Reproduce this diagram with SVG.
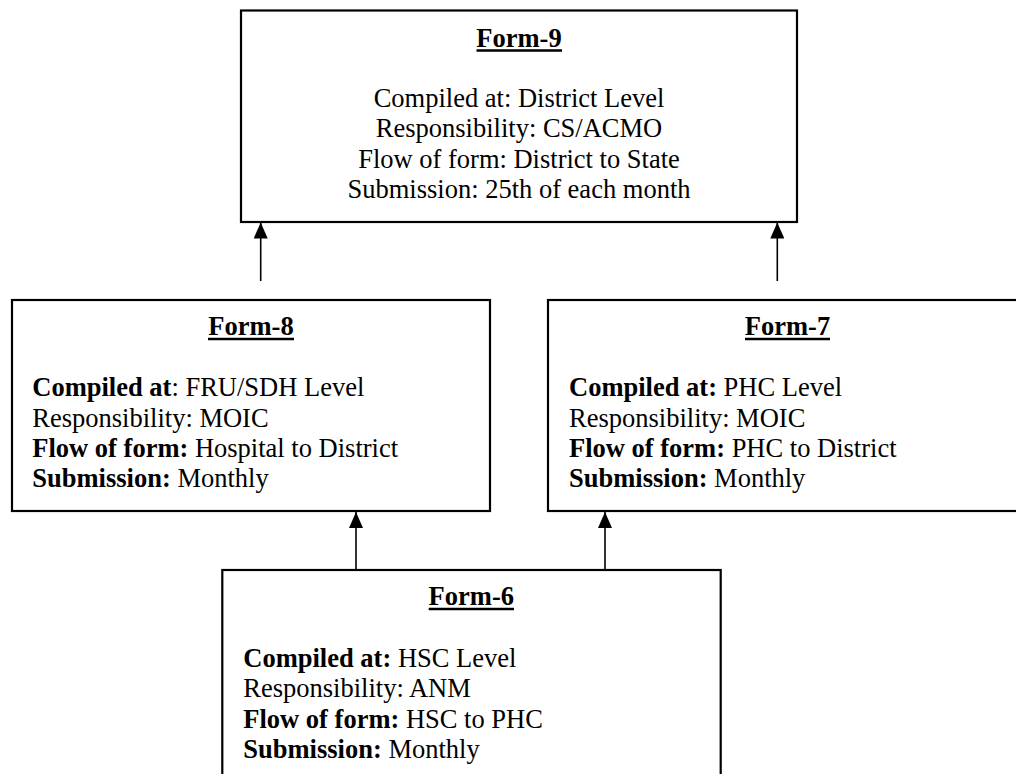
<svg xmlns="http://www.w3.org/2000/svg" width="1016" height="774" viewBox="0 0 1016 774">
<style>
.box{fill:#fff;stroke:#000;stroke-width:2.2}
.t{font-family:"Liberation Serif","Times New Roman",serif;font-size:26.5px;fill:#000}
.b{font-weight:bold}
.title{font-family:"Liberation Serif","Times New Roman",serif;font-size:26.5px;font-weight:bold;fill:#000;text-anchor:middle}
.ul{stroke:#000;stroke-width:2.4}
.conn{stroke:#000;stroke-width:1.6;fill:none}
</style>
<defs>
<marker id="ah" viewBox="0 0 16 14" refX="16" refY="7" markerWidth="16" markerHeight="14" markerUnits="userSpaceOnUse" orient="auto">
<path d="M0,0 L16,7 L0,14 z" fill="#000"/>
</marker>
</defs>
<rect width="1016" height="774" fill="#fff"/>

<g id="form9">
<rect class="box" x="241" y="10.5" width="556" height="211.5"/>
<text class="title" x="519" y="47">Form-9</text>
<line class="ul" x1="476.5" y1="50.5" x2="562" y2="50.5"/>
<text class="t" text-anchor="middle" x="519" y="107">Compiled at: District Level</text>
<text class="t" text-anchor="middle" x="519" y="137.3">Responsibility: CS/ACMO</text>
<text class="t" text-anchor="middle" x="519" y="167.6">Flow of form: District to State</text>
<text class="t" text-anchor="middle" x="519" y="198">Submission: 25th of each month</text>
</g>

<g id="form8">
<rect class="box" x="12" y="300" width="478" height="211"/>
<text class="title" x="251" y="335">Form-8</text>
<line class="ul" x1="208" y1="339" x2="294" y2="339"/>
<text class="t" x="32.3" y="396"><tspan class="b">Compiled at</tspan>: FRU/SDH Level</text>
<text class="t" x="32.3" y="426.5">Responsibility: MOIC</text>
<text class="t" x="32.3" y="457"><tspan class="b">Flow of form:</tspan> Hospital to District</text>
<text class="t" x="32.3" y="487.3"><tspan class="b">Submission:</tspan> Monthly</text>
</g>

<g id="form7">
<rect class="box" x="548" y="300" width="479" height="211"/>
<text class="title" x="787.5" y="335">Form-7</text>
<line class="ul" x1="745" y1="339" x2="830" y2="339"/>
<text class="t" x="569" y="396"><tspan class="b">Compiled at:</tspan> PHC Level</text>
<text class="t" x="569" y="426.5">Responsibility: MOIC</text>
<text class="t" x="569" y="457"><tspan class="b">Flow of form:</tspan> PHC to District</text>
<text class="t" x="569" y="487.3"><tspan class="b">Submission:</tspan> Monthly</text>
</g>

<g id="form6">
<rect class="box" x="222.3" y="570" width="498.4" height="240"/>
<text class="title" x="471.3" y="605">Form-6</text>
<line class="ul" x1="428.7" y1="609" x2="514" y2="609"/>
<text class="t" x="243.3" y="666.7"><tspan class="b">Compiled at:</tspan> HSC Level</text>
<text class="t" x="243.3" y="697">Responsibility: ANM</text>
<text class="t" x="243.3" y="727.5"><tspan class="b">Flow of form:</tspan> HSC to PHC</text>
<text class="t" x="243.3" y="758.3"><tspan class="b">Submission:</tspan> Monthly</text>
</g>

<g id="connectors">
<line class="conn" x1="260.7" y1="281" x2="260.7" y2="222.5" marker-end="url(#ah)"/>
<line class="conn" x1="777.3" y1="281" x2="777.3" y2="222.5" marker-end="url(#ah)"/>
<line class="conn" x1="356" y1="569" x2="356" y2="512" marker-end="url(#ah)"/>
<line class="conn" x1="605" y1="569" x2="605" y2="512" marker-end="url(#ah)"/>
</g>
</svg>
